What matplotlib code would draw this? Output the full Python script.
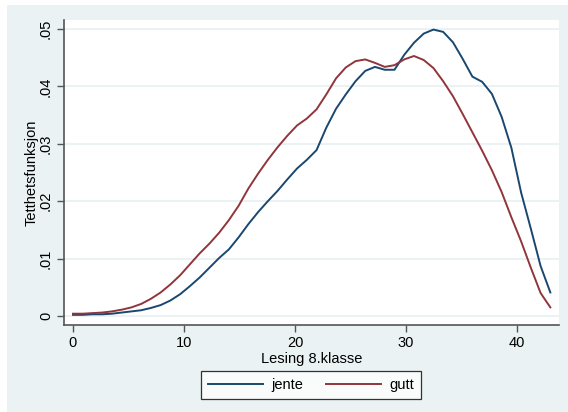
import matplotlib
matplotlib.use("Agg")
import matplotlib.pyplot as plt
from matplotlib.patches import Rectangle
import numpy as np

plt.rcParams['font.family'] = ['Liberation Sans', 'DejaVu Sans']

# kdensity evaluation grid (50 points between min and max score)
score = np.linspace(0, 43, 50)

jente = [0.0002, 0.0002, 0.0003, 0.0003, 0.0004, 0.0006, 0.0008, 0.0010, 0.0014, 0.0019,
         0.0027, 0.0038, 0.0052, 0.0067, 0.0084, 0.0101, 0.0116, 0.0137, 0.0160, 0.0181,
         0.0200, 0.0218, 0.0238, 0.0257, 0.0272, 0.0289, 0.0328, 0.0361, 0.0386, 0.0409,
         0.0427, 0.0434, 0.0429, 0.0429, 0.0455, 0.0476, 0.0492, 0.0499, 0.0495, 0.0477,
         0.0448, 0.0417, 0.0408, 0.0387, 0.0347, 0.0293, 0.0215, 0.0152, 0.0087, 0.0041]

gutt = [0.0004, 0.0004, 0.0005, 0.0006, 0.0008, 0.0011, 0.0015, 0.0021, 0.0030, 0.0041,
        0.0055, 0.0071, 0.0090, 0.0109, 0.0126, 0.0145, 0.0167, 0.0192, 0.0222, 0.0248,
        0.0272, 0.0294, 0.0314, 0.0332, 0.0344, 0.0360, 0.0386, 0.0414, 0.0433, 0.0444,
        0.0447, 0.0441, 0.0434, 0.0437, 0.0447, 0.0453, 0.0446, 0.0432, 0.0409, 0.0383,
        0.0352, 0.0320, 0.0288, 0.0254, 0.0216, 0.0172, 0.0130, 0.0084, 0.0040, 0.0015]

xticks = [0, 10, 20, 30, 40]
yticks = [0, 0.01, 0.02, 0.03, 0.04, 0.05]
ytick_labels = ["0", ".01", ".02", ".03", ".04", ".05"]

navy = "#1a476f"
maroon = "#90353b"
bg = "#eaf2f3"

fig = plt.figure(figsize=(5.68, 4.12), dpi=100)
fig.patch.set_facecolor("white")
fig.patches.append(Rectangle((7 / 568, 0), 561 / 568, 407 / 412, transform=fig.transFigure,
                             facecolor=bg, edgecolor="none", zorder=-10))

ax = fig.add_axes([64 / 568, 1 - 325 / 412, 495 / 568, 305 / 412])
ax.set_facecolor("white")

ax.plot(score, jente, color=navy, lw=1.4, label="jente")
ax.plot(score, gutt, color=maroon, lw=1.4, label="gutt")

ax.set_xlim(-0.81, 43.78)
ax.set_ylim(-0.00157, 0.05157)
ax.set_xticks(xticks)
ax.set_yticks(yticks)
ax.set_yticklabels(ytick_labels, rotation=90, va="center")
ax.grid(axis="y", color=bg, lw=1.4)
ax.set_axisbelow(True)

for side in ["top", "right"]:
    ax.spines[side].set_visible(False)
for side in ["left", "bottom"]:
    ax.spines[side].set_color("#555555")
    ax.spines[side].set_linewidth(1.2)
ax.tick_params(axis="both", direction="out", length=5, width=1, color="#555555",
               labelsize=10.5, labelcolor="black", pad=3)

ax.set_xlabel("Lesing 8.klasse", fontsize=10.5, labelpad=1)
ax.set_ylabel("Tetthetsfunksjon", fontsize=10.5)
ax.yaxis.set_label_coords(-0.052, 0.5)

leg = fig.legend(loc="center", bbox_to_anchor=(311 / 568, 1 - 385 / 412), ncol=2,
                 fontsize=10.5, handlelength=3.8, handletextpad=0.6, columnspacing=1.5,
                 frameon=True, fancybox=False, borderpad=0.45)
leg.get_frame().set_edgecolor("black")
leg.get_frame().set_linewidth(0.9)

fig.savefig("out.png", dpi=100, facecolor=fig.get_facecolor())
